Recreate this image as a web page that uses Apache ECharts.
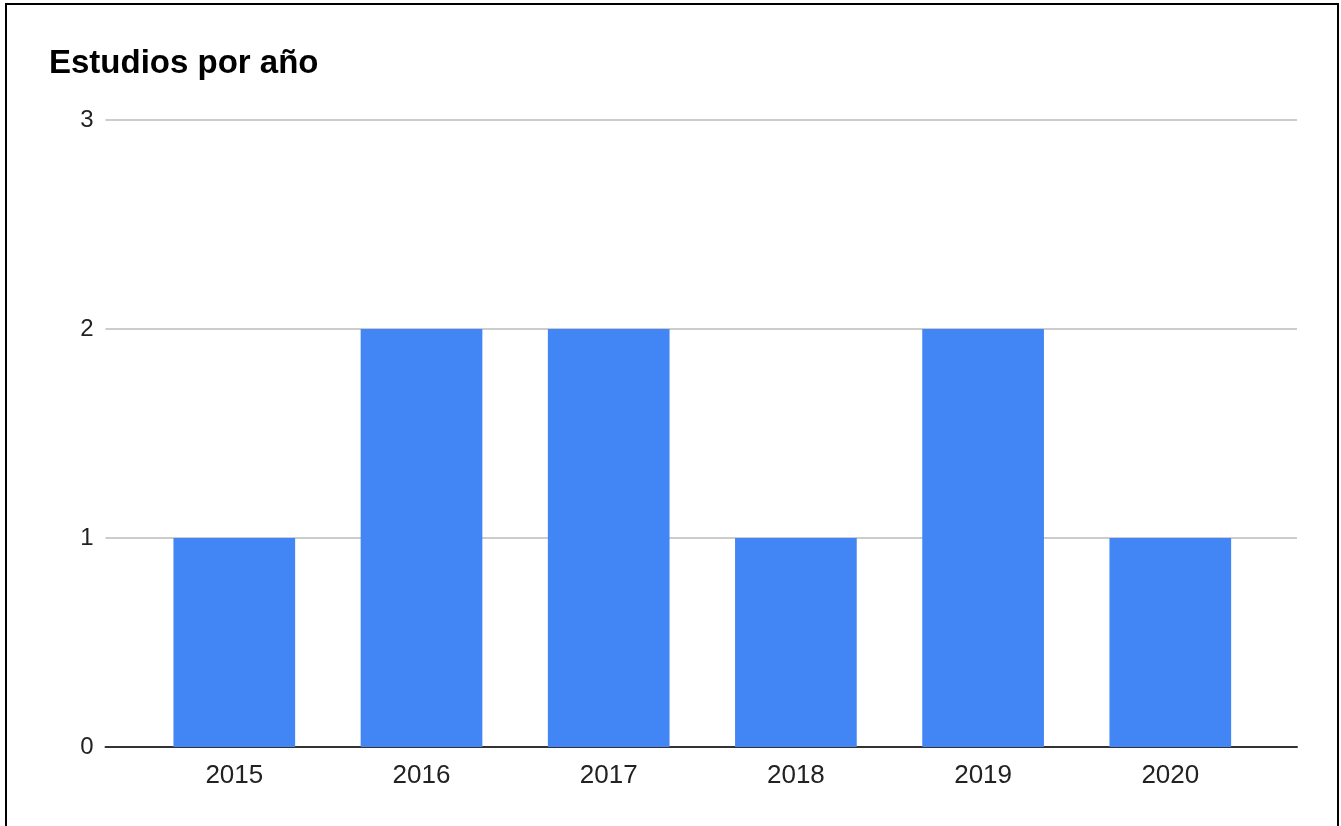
<!DOCTYPE html>
<html>
<head>
<meta charset="utf-8">
<script src="https://cdn.jsdelivr.net/npm/echarts@6/dist/echarts.min.js"></script>
<style>
html,body{margin:0;padding:0;background:#fff;overflow:hidden;}
#frame{position:absolute;left:5px;top:3px;width:1334px;height:840px;border:2px solid #000;box-sizing:border-box;}
#chart{position:absolute;left:0;top:0;width:1341px;height:826px;}
</style>
</head>
<body>
<div id="frame"></div>
<div id="chart"></div>
<script>
const title = 'Estudios por año';
const years = ['2015', '2016', '2017', '2018', '2019', '2020'];
const studies = [1, 2, 2, 1, 2, 1];
const yTicks = [0, 1, 2, 3];

const chart = echarts.init(document.getElementById('chart'));
const font = '"Liberation Sans", Arial, sans-serif';
chart.setOption({
  animation: false,
  title: {
    text: title, left: 44, top: 42,
    textStyle: {fontFamily: font, fontSize: 33, fontWeight: 'bold', color: '#000'}
  },
  grid: [
    {left: 140.7, right: 77.1, top: 120, bottom: 79},
    {left: 105.5, right: 44, top: 120, bottom: 79}
  ],
  xAxis: [
    {type: 'category', data: years, gridIndex: 0,
     axisLine: {show: false}, axisTick: {show: false},
     axisLabel: {fontFamily: font, fontSize: 26, color: '#222', margin: 16}},
    {type: 'value', gridIndex: 1, min: 0, max: 1,
     axisLine: {show: true, onZero: false, lineStyle: {color: '#333', width: 2}},
     axisTick: {show: false}, axisLabel: {show: false}, splitLine: {show: false}}
  ],
  yAxis: [
    {type: 'value', gridIndex: 0, min: yTicks[0], max: yTicks[yTicks.length - 1], interval: 1,
     show: false, splitLine: {show: false}},
    {type: 'value', gridIndex: 1, min: yTicks[0], max: yTicks[yTicks.length - 1], interval: 1,
     axisLine: {show: false}, axisTick: {show: false},
     axisLabel: {fontFamily: font, fontSize: 24, color: '#222', margin: 12, padding: [8, 0, 0, 0]},
     splitLine: {lineStyle: {color: '#cccccc', width: 2}}}
  ],
  series: [{
    type: 'bar', data: studies, xAxisIndex: 0, yAxisIndex: 0,
    barWidth: '65%', itemStyle: {color: '#4285F4'}, z: 3
  }]
});
</script>
</body>
</html>
